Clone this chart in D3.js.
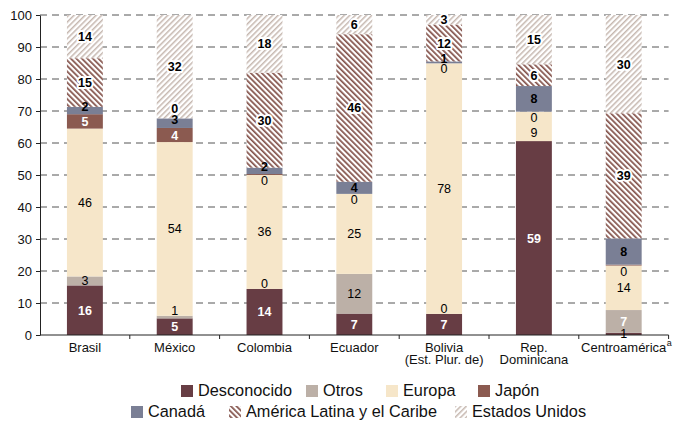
<!DOCTYPE html>
<html><head><meta charset="utf-8">
<script src="https://cdn.jsdelivr.net/npm/d3@7"></script>
<style>
body{margin:0;background:#fff;}
svg{display:block;font-family:"Liberation Sans",Arial,Helvetica,sans-serif;}
</style></head><body>
<svg id="chart" width="677" height="421"></svg>
<script>
// ---- DATA ----
const categories = ["Brasil","México","Colombia","Ecuador","Bolivia (Est. Plur. de)","Rep. Dominicana","Centroamérica"];
const categoryLines = [["Brasil"],["México"],["Colombia"],["Ecuador"],["Bolivia","(Est. Plur. de)"],["Rep.","Dominicana"],["Centroamérica"]];
const categoryNote = [null,null,null,null,null,null,"a"];

const seriesNames = ["Desconocido","Otros","Europa","Japón","Canadá","América Latina y el Caribe","Estados Unidos"];

const desconocido = [15.5, 5.2, 14.4, 6.7, 6.6, 60.6, 0.7];
const otros       = [2.8, 0.8, 0, 12.4, 0, 0, 7.1];
const europa      = [46.2, 54.3, 35.6, 25.0, 78.3, 9.2, 13.9];
const japon       = [4.5, 4.4, 0.3, 0, 0, 0, 0.3];
const canada      = [2.3, 3.0, 2.0, 3.8, 0.6, 8.0, 8.2];
const alc         = [15.2, 0, 29.7, 46.1, 11.5, 6.8, 39.1];
const eeuu        = [13.5, 32.3, 18.0, 6.0, 3.0, 15.4, 30.7];

// value labels as printed on the chart (null = no label)
const desconocidoLbl = [16, 5, 14, 7, 7, 59, 1];
const otrosLbl       = [3, 1, 0, 12, 0, null, 7];
const europaLbl      = [46, 54, 36, 25, 78, 9, 14];
const japonLbl       = [5, 4, 0, 0, 0, 0, 0];
const canadaLbl      = [2, 3, 2, 4, 1, 8, 8];
const alcLbl         = [15, 0, 30, 46, 12, 6, 39];
const eeuuLbl        = [14, 32, 18, 6, 3, 15, 30];

const yTicks = [0,10,20,30,40,50,60,70,80,90,100];

// ---- BUILD ----
const valuesBySeries = [desconocido, otros, europa, japon, canada, alc, eeuu];
const labelsBySeries = [desconocidoLbl, otrosLbl, europaLbl, japonLbl, canadaLbl, alcLbl, eeuuLbl];
const table = categories.map((c,i)=>{
  const row = {cat:c};
  seriesNames.forEach((s,k)=>row[s]=valuesBySeries[k][i]);
  return row;
});
const stacked = d3.stack().keys(seriesNames)(table);

const svg = d3.select("#chart");
const defs = svg.append("defs");
function hatch(id, color, angle, size, w){
  const p = defs.append("pattern").attr("id",id).attr("patternUnits","userSpaceOnUse")
    .attr("width",size).attr("height",size).attr("patternTransform",`rotate(${angle})`);
  p.append("rect").attr("width",size).attr("height",size).attr("fill","#fff");
  p.append("rect").attr("width",w).attr("height",size).attr("fill",color);
}
hatch("hALC","#84534b",-45,3.9,1.7);
hatch("hUS","#c6b8b0",45,3.9,1.5);

const fills = {
  "Desconocido":"#673d44",
  "Otros":"#bcb0a7",
  "Europa":"#f6e6c9",
  "Japón":"#8b5a50",
  "Canadá":"#7a7f95",
  "América Latina y el Caribe":"url(#hALC)",
  "Estados Unidos":"url(#hUS)"
};

const x = d3.scaleBand().domain(categories).range([40, 668.6]).paddingInner(0.6).paddingOuter(0.3);
const y = d3.scaleLinear().domain([0,100]).range([335, 15]);
const X0 = 40, X1 = 668.6;

// gridlines
svg.append("g").selectAll("line").data(yTicks.filter(t=>t>0)).join("line")
  .attr("x1",X0).attr("x2",X1).attr("y1",d=>y(d)).attr("y2",d=>y(d))
  .attr("stroke","#555").attr("stroke-width",1).attr("stroke-dasharray","7,5");

// bars
const gBars = svg.append("g");
stacked.forEach(layer=>{
  gBars.append("g").selectAll("rect").data(layer).join("rect")
    .attr("x",d=>x(d.data.cat)).attr("width",x.bandwidth())
    .attr("y",d=>y(d[1])).attr("height",d=>Math.max(0,y(d[0])-y(d[1])))
    .attr("fill",fills[layer.key]);
});

// axes
const yAxis = d3.axisLeft(y).tickValues(yTicks).tickSize(4).tickSizeOuter(0).tickPadding(4);
const gy = svg.append("g").attr("transform",`translate(${X0},0)`).call(yAxis);
gy.select(".domain").attr("stroke","#222");
gy.selectAll(".tick line").attr("stroke","#222");
gy.selectAll(".tick text").attr("font-size","13px").attr("fill","#111").attr("font-family",null);

const gx = svg.append("g");
gx.append("line").attr("x1",X0).attr("x2",X1).attr("y1",y(0)).attr("y2",y(0)).attr("stroke","#222");
gx.selectAll("line.t").data(d3.range(1,categories.length+1)).join("line").attr("class","t")
  .attr("x1",k=>X0+k*x.step()).attr("x2",k=>X0+k*x.step())
  .attr("y1",y(0)).attr("y2",y(0)+4).attr("stroke","#222");

categories.forEach((c,i)=>{
  const cx = x(c)+x.bandwidth()/2;
  const t = svg.append("text").attr("x",cx).attr("y",352).attr("text-anchor","middle")
    .attr("font-size","13px").attr("fill","#111");
  categoryLines[i].forEach((ln,j)=>{
    t.append("tspan").attr("x",cx).attr("dy",j===0?0:12).text(ln);
  });
  if(categoryNote[i]){
    const w = t.node().getComputedTextLength();
    svg.append("text").attr("x",cx+w/2+0.5).attr("y",346).attr("font-size","9px")
      .attr("fill","#111").text(categoryNote[i]);
  }
});

// value labels
const gL = svg.append("g").attr("font-size","12.5px").attr("text-anchor","middle");
stacked.forEach((layer,k)=>{
  const key = layer.key;
  layer.forEach((d,i)=>{
    const lbl = labelsBySeries[k][i];
    if(lbl===null || lbl===undefined) return;
    const top = y(d[1]), bot = y(d[0]);
    const h = bot-top;
    let cy = (top+bot)/2, fill="#000", weight="normal", halo=false;
    if(key==="Desconocido"){
      if(h>=11){fill="#fff";weight="bold";}
    } else if(key==="Otros"){
      if(i===6){fill="#fff";weight="bold";}
      if(h<5) cy = top-5;
    } else if(key==="Europa"){
      const jv = japon[i];
      if(japonLbl[i]!==null && jv*3.2<11) cy = Math.max(cy, top+5.5+15);
    } else if(key==="Japón"){
      if(h>=11){fill="#fff";weight="bold";}
      else cy = bot+5.5;
    } else if(key==="Canadá"){
      weight="bold";
      if(h<12) cy = cy-4;
    } else {
      weight="bold"; halo=true;
      if(h<5) cy = top-10;
    }
    const t = gL.append("text").attr("x",x(d.data.cat)+x.bandwidth()/2).attr("y",cy)
      .attr("dy","0.36em").attr("fill",fill).attr("font-weight",weight).text(lbl);
    if(halo) t.attr("stroke","#fff").attr("stroke-width",4).attr("stroke-linejoin","round").attr("paint-order","stroke");
  });
});

// legend
const legendItems = [
  {k:0,x:181,row:0},{k:1,x:306,row:0},{k:2,x:386,row:0},{k:3,x:478,row:0},
  {k:4,x:131,row:1},{k:5,x:229,row:1},{k:6,x:455,row:1}
];
const gLeg = svg.append("g");
legendItems.forEach(it=>{
  const yy = it.row===0 ? 385 : 406;
  gLeg.append("rect").attr("x",it.x).attr("y",yy).attr("width",12).attr("height",12)
    .attr("fill",fills[seriesNames[it.k]]);
  gLeg.append("text").attr("x",it.x+17).attr("y",yy+11).attr("font-size","16.3px")
    .attr("fill","#111").text(seriesNames[it.k]);
});
</script>
</body></html>
